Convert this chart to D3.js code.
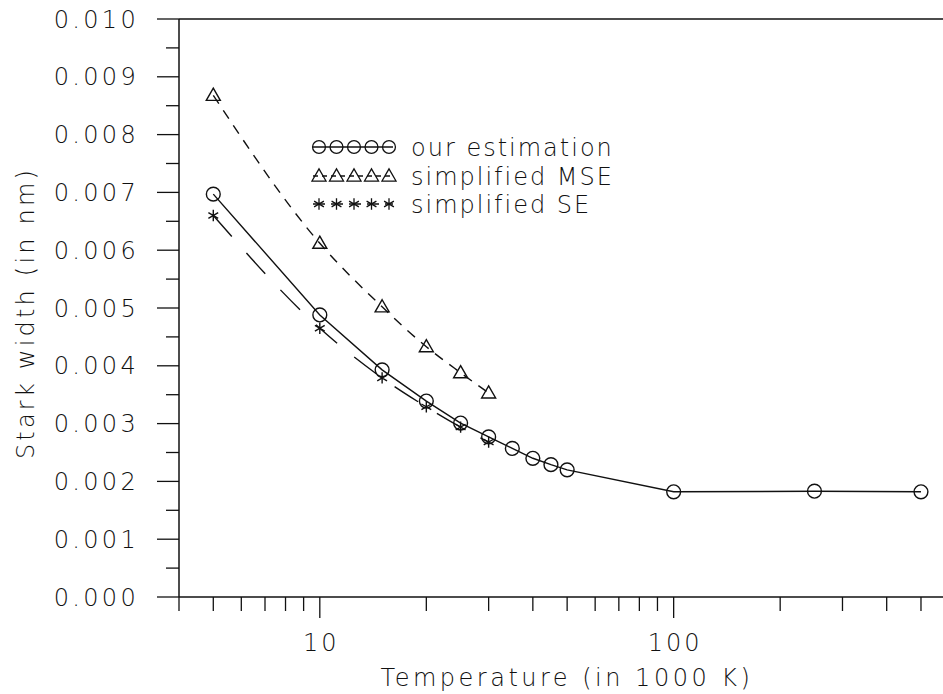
<!DOCTYPE html>
<html>
<head>
<meta charset="utf-8">
<script src="https://cdn.jsdelivr.net/npm/d3@7"></script>
<style>
  body { margin: 0; background: #fff; }
  text { font-family: "DejaVu Sans", sans-serif; font-weight: 200; fill: #111; font-size: 24px; }
</style>
</head>
<body>
<svg id="chart" width="943" height="694"></svg>
<script>
// temperatures (1000 K)
var tEst = [5, 10, 15, 20, 25, 30, 35, 40, 45, 50, 100, 250, 500];
var wEst = [0.00697, 0.00488, 0.00393, 0.00339, 0.00301, 0.00277, 0.00257, 0.00240, 0.00229, 0.00220, 0.00182, 0.00183, 0.00182];
var tMSE = [5, 10, 15, 20, 25, 30];
var wMSE = [0.00868, 0.00612, 0.00502, 0.00433, 0.00388, 0.00353];
var tSE = [5, 10, 15, 20, 25, 30];
var wSE = [0.00660, 0.00465, 0.00379, 0.00329, 0.00294, 0.00268];

var xLabels = [10, 100];
var yTicks = [0, 0.001, 0.002, 0.003, 0.004, 0.005, 0.006, 0.007, 0.008, 0.009, 0.010];
var legendNames = ["our estimation", "simplified MSE", "simplified SE"];

var svg = d3.select("#chart");
var x = d3.scaleLog().domain([4, 600]).range([179, 949]);
var y = d3.scaleLinear().domain([0, 0.010]).range([597, 19]);

var ink = "#111";

// frame: left axis, top line, bottom axis
svg.append("line").attr("x1", 179).attr("x2", 179).attr("y1", y(0.010)).attr("y2", y(0))
  .attr("stroke", ink).attr("stroke-width", 1.5);
svg.append("line").attr("x1", 179).attr("x2", 943).attr("y1", y(0.010)).attr("y2", y(0.010))
  .attr("stroke", ink).attr("stroke-width", 1.5);
svg.append("line").attr("x1", 179).attr("x2", 943).attr("y1", y(0)).attr("y2", y(0))
  .attr("stroke", ink).attr("stroke-width", 1.5);

// y ticks (major + half-step minor)
var yMinor = d3.range(0.0005, 0.010, 0.001);
svg.selectAll(".ymaj").data(yTicks).enter().append("line")
  .attr("x1", 157).attr("x2", 179)
  .attr("y1", function(d) { return y(d); }).attr("y2", function(d) { return y(d); })
  .attr("stroke", ink).attr("stroke-width", 1.3);
svg.selectAll(".ymin").data(yMinor).enter().append("line")
  .attr("x1", 166).attr("x2", 179)
  .attr("y1", function(d) { return y(d); }).attr("y2", function(d) { return y(d); })
  .attr("stroke", ink).attr("stroke-width", 1.3);
svg.selectAll(".ylab").data(yTicks).enter().append("text")
  .attr("x", 139).attr("y", function(d) { return y(d); })
  .attr("dy", "0.36em").attr("text-anchor", "end")
  .style("letter-spacing", "3.3px")
  .text(function(d) { return d3.format(".3f")(d); });

// x ticks on log scale
var xMinor = x.ticks().filter(function(d) { return xLabels.indexOf(d) < 0; });
svg.selectAll(".xmin").data(xMinor).enter().append("line")
  .attr("x1", function(d) { return x(d); }).attr("x2", function(d) { return x(d); })
  .attr("y1", y(0)).attr("y2", y(0) + 14)
  .attr("stroke", ink).attr("stroke-width", 1.3);
svg.selectAll(".xmaj").data(xLabels).enter().append("line")
  .attr("x1", function(d) { return x(d); }).attr("x2", function(d) { return x(d); })
  .attr("y1", y(0)).attr("y2", y(0) + 21)
  .attr("stroke", ink).attr("stroke-width", 1.3);
svg.selectAll(".xlab").data(xLabels).enter().append("text")
  .attr("x", function(d) { return x(d) + 1.5; }).attr("y", 651)
  .attr("text-anchor", "middle")
  .style("letter-spacing", "3px")
  .text(function(d) { return d; });

// axis titles
svg.append("text").attr("x", 567).attr("y", 686).attr("text-anchor", "middle")
  .style("letter-spacing", "3.5px")
  .text("Temperature (in 1000 K)");
svg.append("text").attr("transform", "translate(34,313) rotate(-90)")
  .attr("text-anchor", "middle")
  .style("letter-spacing", "3.2px")
  .text("Stark width (in nm)");

// series
function pts(ts, ws) { return ts.map(function(t, i) { return [t, ws[i]]; }); }
var est = pts(tEst, wEst), mse = pts(tMSE, wMSE), se = pts(tSE, wSE);

var straight = d3.line()
  .x(function(d) { return x(d[0]); })
  .y(function(d) { return y(d[1]); });
var smooth = d3.line()
  .x(function(d) { return x(d[0]); })
  .y(function(d) { return y(d[1]); })
  .curve(d3.curveMonotoneX);

svg.append("path").attr("d", straight(est)).attr("fill", "none")
  .attr("stroke", ink).attr("stroke-width", 1.4);
svg.append("path").attr("d", smooth(mse)).attr("fill", "none")
  .attr("stroke", ink).attr("stroke-width", 1.4).attr("stroke-dasharray", "10,8");
svg.append("path").attr("d", smooth(se)).attr("fill", "none")
  .attr("stroke", ink).attr("stroke-width", 1.4).attr("stroke-dasharray", "28,22");

var circ = d3.symbol().type(d3.symbolCircle).size(150);
var tri = d3.symbol().type(d3.symbolTriangle).size(85);
var star = d3.symbol().type(d3.symbolAsterisk).size(90);

function markers(data, sym, dy) {
  svg.append("g").selectAll("path").data(data).enter().append("path")
    .attr("d", sym)
    .attr("transform", function(d) { return "translate(" + x(d[0]) + "," + (y(d[1]) + (dy || 0)) + ")"; })
    .attr("fill", "none").attr("stroke", ink).attr("stroke-width", 1.4);
}
markers(est, circ);
markers(mse, tri, 1);
markers(se, star);

// legend
var legY = [147, 176, 204];
var legSyms = [d3.symbol().type(d3.symbolCircle).size(130), tri, star];
var legDash = [null, "5,4", "12,6"];
legendNames.forEach(function(name, i) {
  var g = svg.append("g").attr("transform", "translate(0," + legY[i] + ")");
  g.append("line").attr("x1", 313).attr("x2", 393).attr("y1", 0).attr("y2", 0)
    .attr("stroke", ink).attr("stroke-width", 1.3)
    .attr("stroke-dasharray", legDash[i]);
  var sx = d3.range(5).map(function(k) { return 319 + k * 17.5; });
  g.selectAll("path").data(sx).enter().append("path")
    .attr("d", legSyms[i])
    .attr("transform", function(d) { return "translate(" + d + "," + (i === 1 ? 1 : 0) + ")"; })
    .attr("fill", "none").attr("stroke", ink).attr("stroke-width", 1.3);
  g.append("text").attr("x", 411).attr("y", 0).attr("dy", "0.36em")
    .style("letter-spacing", "2px")
    .text(name);
});
</script>
</body>
</html>
